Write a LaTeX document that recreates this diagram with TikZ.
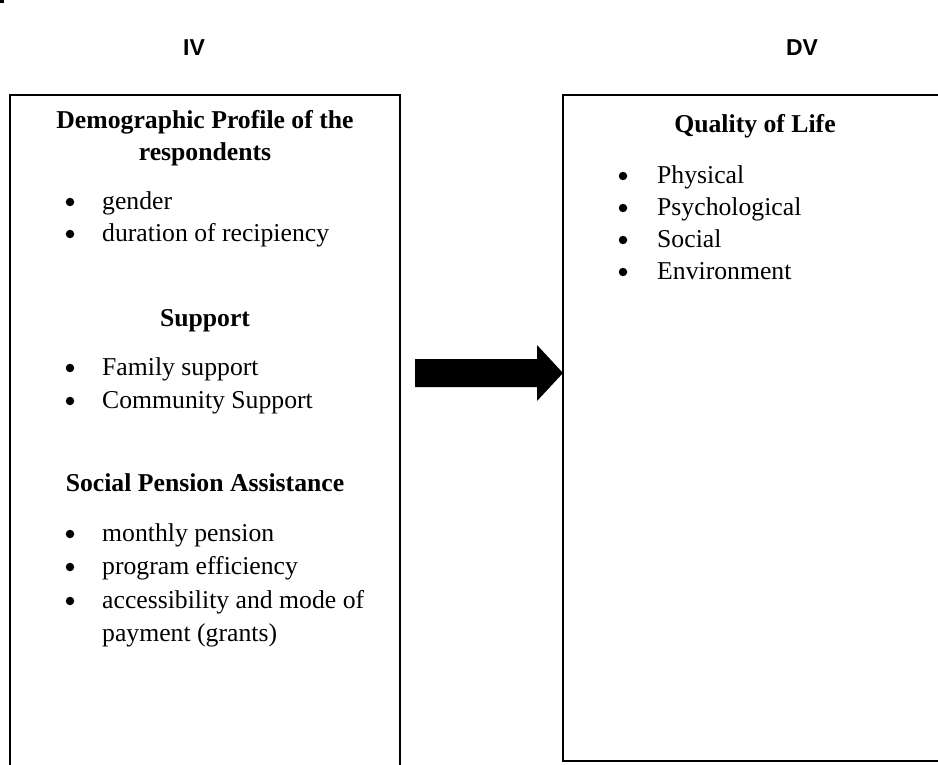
\documentclass[tikz,border=0pt]{standalone}
\usepackage{fontspec}
\setmainfont{Liberation Serif}
\newfontfamily\arialfont{Liberation Sans}
\usetikzlibrary{calc}
\begin{document}
\begin{tikzpicture}[x=1pt,y=-1pt,
  txt/.style={inner sep=0pt, anchor=base west, font=\fontsize{25.7}{30}\selectfont},
  head/.style={inner sep=0pt, anchor=base, font=\fontsize{25.7}{30}\selectfont\bfseries},
  bul/.style={circle, fill, inner sep=0pt, minimum size=8.5pt},
  var/.style={inner sep=0pt, anchor=base, font=\arialfont\bfseries\fontsize{23}{26}\selectfont},
  frame/.style={line width=2pt, line cap=butt, line join=miter},
]
\useasboundingbox (0,0) rectangle (938,764);
\fill (0,0) rectangle (4,2.5);
\begin{scope}
\clip (0,0) rectangle (938,764);
\draw[frame] (10,790) -- (10,95) -- (400,95) -- (400,790);
\draw[frame] (960,95) -- (563,95) -- (563,761) -- (960,761);
\end{scope}

\node[var] (iv) at (194,55) {IV};
\node[var] (dv) at (802,55) {DV};

% left box
\node[head] (h1a) at (205,128) {Demographic Profile of the};
\node[head] (h1b) at (205,160) {respondents};
\node[bul] (b1) at (70,202) {};
\node[txt] (t1) at (102,209) {gender};
\node[bul] (b2) at (70,234) {};
\node[txt] (t2) at (102,241) {duration of recipiency};

\node[head] (h2) at (205,326) {Support};
\node[bul] (b3) at (70,368) {};
\node[txt] (t3) at (102,375) {Family support};
\node[bul] (b4) at (70,401) {};
\node[txt] (t4) at (102,408) {Community Support};

\node[head] (h3) at (205,491) {Social Pension Assistance};
\node[bul] (b5) at (70,534) {};
\node[txt] (t5) at (102,541) {monthly pension};
\node[bul] (b6) at (70,567) {};
\node[txt] (t6) at (102,574) {program efficiency};
\node[bul] (b7) at (70,601) {};
\node[txt] (t7) at (102,608) {accessibility and mode of};
\node[txt] (t8) at (102,641) {payment (grants)};

% right box
\node[head] (h4) at (755,132) {Quality of Life};
\node[bul] (r1) at (623,176) {};
\node[txt] (s1) at (657,183) {Physical};
\node[bul] (r2) at (623,208) {};
\node[txt] (s2) at (657,215) {Psychological};
\node[bul] (r3) at (623,240) {};
\node[txt] (s3) at (657,247) {Social};
\node[bul] (r4) at (623,272) {};
\node[txt] (s4) at (657,279) {Environment};

% arrow
\coordinate (as) at (415,373);
\coordinate (ae) at (563,373);
\fill ($(as)+(0,-14)$) -- ($(ae)+(-26,-14)$) -- ($(ae)+(-26,-28)$) -- (ae)
      -- ($(ae)+(-26,28)$) -- ($(ae)+(-26,14)$) -- ($(as)+(0,14)$) -- cycle;
\end{tikzpicture}
\end{document}
